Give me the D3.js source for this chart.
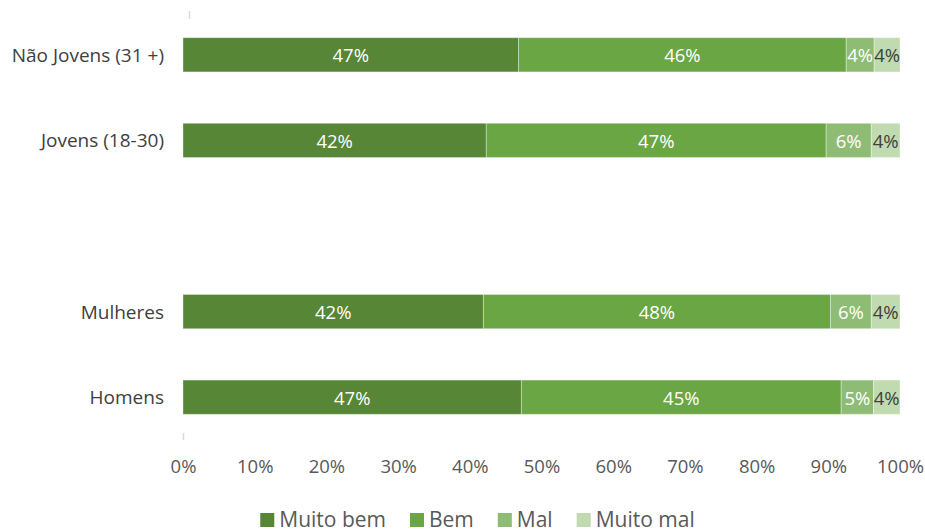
<!DOCTYPE html>
<html>
<head>
<meta charset="utf-8">
<script src="https://cdn.jsdelivr.net/npm/d3@7/dist/d3.min.js"></script>
<style>
  html, body { margin: 0; padding: 0; background: #fff; }
  svg { display: block; font-family: "Open Sans", "Noto Sans", sans-serif; }
</style>
</head>
<body>
<svg id="chart" width="925" height="531"></svg>
<script>
// Rows from top to bottom; the empty entry leaves a gap between the two groups
const categories = ["Não Jovens (31 +)", "Jovens (18-30)", "", "Mulheres", "Homens"];
const seriesNames = ["Muito bem", "Bem", "Mal", "Muito mal"];
const muitoBem = [46.8, 42.3, null, 41.9, 47.2];
const bem      = [45.7, 47.4, null, 48.4, 44.6];
const mal      = [3.9, 6.3, null, 5.7, 4.5];
const muitoMal = [3.6, 4.0, null, 4.0, 3.7];
const tickValues = [0, 10, 20, 30, 40, 50, 60, 70, 80, 90, 100];

const colors = ["#568636", "#6ba645", "#8fbc74", "#c0dbb0"];
const labelColors = ["#ffffff", "#ffffff", "#ffffff", "#404040"];

const svg = d3.select("#chart");
const x = d3.scaleLinear().domain([0, 100]).range([183, 900]);
const y = d3.scaleBand().domain(categories.map((c, i) => i)).range([12, 440]).paddingInner(0.6).paddingOuter(0.3);

const idx = categories.map((c, i) => i).filter(i => muitoBem[i] !== null);
const fmt = v => Math.round(v) + "%";

// Faint vertical axis stubs
svg.append("line").attr("x1", 189.5).attr("x2", 189.5).attr("y1", 11).attr("y2", 19)
  .attr("stroke", "#d9d9d9").attr("stroke-width", 1.5);
svg.append("line").attr("x1", 183.5).attr("x2", 183.5).attr("y1", 433).attr("y2", 440)
  .attr("stroke", "#d9d9d9").attr("stroke-width", 1.5);

idx.forEach(i => {
  const vals = [muitoBem[i], bem[i], mal[i], muitoMal[i]];
  let acc = 0;
  const g = svg.append("g");
  vals.forEach((v, s) => {
    const x0 = x(acc), x1 = x(acc + v);
    g.append("rect")
      .attr("x", x0).attr("y", y(i))
      .attr("width", x1 - x0).attr("height", y.bandwidth())
      .attr("fill", colors[s])
      .attr("stroke", "#ffffff").attr("stroke-opacity", 0.35).attr("stroke-width", 1);
    g.append("text")
      .attr("x", (x0 + x1) / 2).attr("y", y(i) + y.bandwidth() / 2)
      .attr("text-anchor", "middle").attr("dominant-baseline", "central")
      .attr("font-size", 18.5).attr("fill", labelColors[s])
      .text(fmt(v));
    acc += v;
  });
  svg.append("text")
    .attr("x", 164).attr("y", y(i) + y.bandwidth() / 2)
    .attr("text-anchor", "end").attr("dominant-baseline", "central")
    .attr("font-size", 19).attr("fill", "#404040")
    .text(categories[i]);
});

// Percentage axis
const xAxis = d3.axisBottom(x).tickValues(tickValues).tickFormat(d => d + "%").tickSize(0).tickPadding(0);
const ax = svg.append("g").attr("transform", "translate(0,467)").call(xAxis);
ax.select(".domain").remove();
ax.selectAll("text").attr("font-size", 18.5).attr("fill", "#595959")
  .attr("font-family", "\"Open Sans\", sans-serif").attr("dy", "0.35em").attr("y", 0);

// Legend
const legend = svg.append("g");
let lx = 0;
seriesNames.forEach((n, s) => {
  const it = legend.append("g").attr("transform", `translate(${lx},0)`);
  it.append("rect").attr("x", 0).attr("y", 513).attr("width", 14).attr("height", 14).attr("fill", colors[s]);
  const t = it.append("text").attr("x", 19).attr("y", 526.5).attr("font-size", 21).attr("fill", "#595959").text(n);
  const w = t.node().getComputedTextLength();
  lx += 19 + w + 24;
});
const total = lx - 24;
legend.attr("transform", `translate(${477.5 - total / 2},0)`);
</script>
</body>
</html>
